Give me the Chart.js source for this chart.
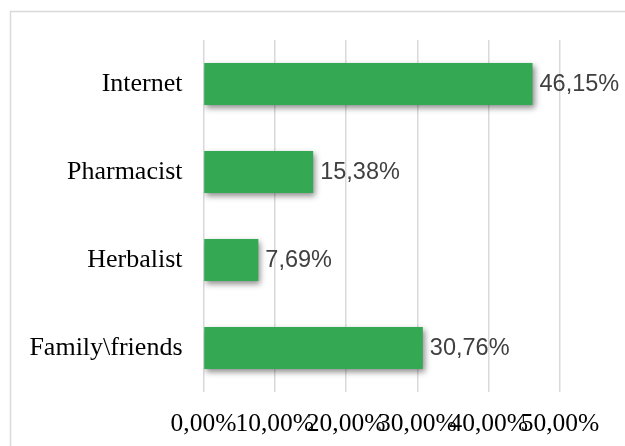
<!DOCTYPE html>
<html>
<head>
<meta charset="utf-8">
<script src="https://cdn.jsdelivr.net/npm/chart.js@4/dist/chart.umd.min.js"></script>
<style>
    html, body { margin: 0; padding: 0; background: #fff; overflow: hidden; }
    #wrap { position: relative; width: 625px; height: 446px; }
</style>
</head>
<body>
<div id="wrap"><canvas id="sources" width="625" height="446"></canvas></div>
<script>
// ─── Data ─────────────────────────────────────────────────────────────────────
const categories = ['Internet', 'Pharmacist', 'Herbalist', 'Family\\friends'];
const shares = [46.15, 15.38, 7.69, 30.76];
const axisMax = 50;
const axisStep = 10;

const BAR_GREEN = '#34a853';
const GRID_GRAY = '#d9d9d9';

function pct(v) {
    return v.toFixed(2).replace('.', ',') + '%';
}

// ─── Plugins ──────────────────────────────────────────────────────────────────
// outer frame of the chart box
const frame = {
    id: 'frame',
    beforeDraw(chart) {
        const ctx = chart.ctx;
        ctx.save();
        ctx.strokeStyle = GRID_GRAY;
        ctx.lineWidth = 1.5;
        ctx.strokeRect(10.5, 11.5, 800, 600);
        ctx.restore();
    }
};

// soft drop shadow under the bars
const barShadow = {
    id: 'barShadow',
    beforeDatasetsDraw(chart) {
        const ctx = chart.ctx;
        ctx.save();
        ctx.shadowColor = 'rgba(0,0,0,0.45)';
        ctx.shadowBlur = 6;
        ctx.shadowOffsetX = 2;
        ctx.shadowOffsetY = 3;
    },
    afterDatasetsDraw(chart) {
        chart.ctx.restore();
    }
};

// value labels to the right of each bar
const valueLabels = {
    id: 'valueLabels',
    afterDraw(chart) {
        const ctx = chart.ctx;
        const meta = chart.getDatasetMeta(0);
        ctx.save();
        ctx.font = '23.5px "Liberation Sans", Arial, sans-serif';
        ctx.fillStyle = '#404040';
        ctx.textAlign = 'left';
        ctx.textBaseline = 'middle';
        meta.data.forEach((bar, i) => {
            ctx.fillText(pct(shares[i]), bar.x + 7, bar.y + 1);
        });
        ctx.restore();
    }
};

// ─── Chart ────────────────────────────────────────────────────────────────────
new Chart(document.getElementById('sources'), {
    type: 'bar',
    data: {
        labels: categories,
        datasets: [{
            data: shares,
            backgroundColor: BAR_GREEN,
            borderWidth: 0,
            categoryPercentage: 1,
            barPercentage: 0.477,
        }]
    },
    options: {
        indexAxis: 'y',
        responsive: false,
        animation: false,
        layout: { padding: { top: 40, right: 65, bottom: 0, left: 0 } },
        scales: {
            x: {
                min: 0,
                max: axisMax,
                border: { display: false },
                grid: { color: GRID_GRAY, lineWidth: 1.5, drawTicks: false },
                ticks: {
                    stepSize: axisStep,
                    autoSkip: false,
                    maxRotation: 0,
                    minRotation: 0,
                    padding: 17,
                    color: '#000',
                    font: { family: '"Liberation Serif", "Times New Roman", serif', size: 25.5 },
                    callback: (v) => pct(v),
                },
                afterFit(scale) { scale.height = 54; },
            },
            y: {
                border: { display: false },
                grid: { display: false, drawTicks: false },
                ticks: {
                    padding: 21,
                    color: '#000',
                    font: { family: '"Liberation Serif", "Times New Roman", serif', size: 26 },
                },
                afterFit(scale) { scale.width = 203.5; },
            }
        },
        plugins: {
            legend: { display: false },
            tooltip: { enabled: false },
        }
    },
    plugins: [frame, barShadow, valueLabels]
});
</script>
</body>
</html>
